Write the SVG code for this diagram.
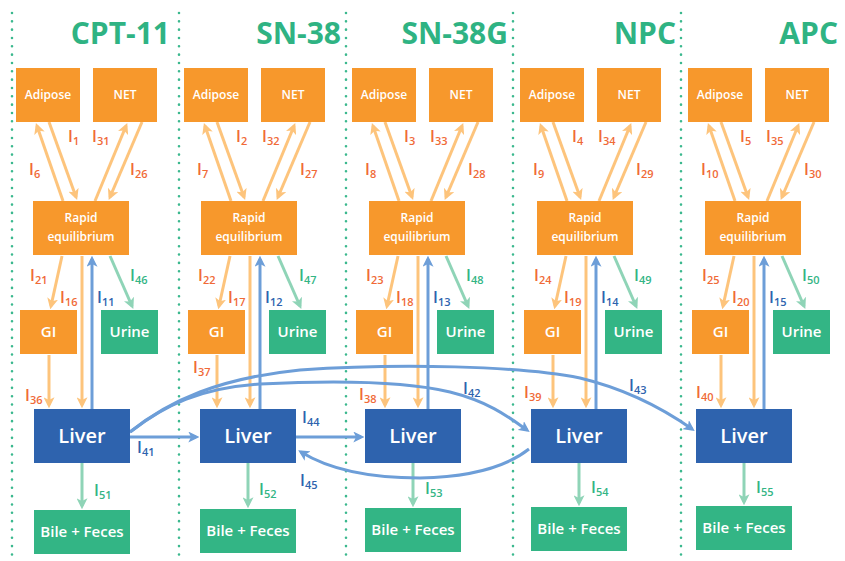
<svg xmlns="http://www.w3.org/2000/svg" width="845" height="561" viewBox="0 0 845 561">
<style>
  .o{fill:#f7982c}
  .b{fill:#2e63ae}
  .g{fill:#33b585}
  .bt{font-family:"Open Sans","Liberation Sans",sans-serif;font-weight:600;fill:#fff;text-anchor:middle}
  .s{font-size:12px}
  .m{font-size:15px}
  .l{font-size:20px}
  .t{font-family:"Open Sans","Liberation Sans",sans-serif;font-weight:700;font-size:30px;fill:#2fb383;text-anchor:end}
  .lab{font-family:"Open Sans","Liberation Sans",sans-serif;font-weight:600;font-size:16px}
  .lo{fill:#f06a37}
  .lb{fill:#2e63ae}
  .lg{fill:#33b585}
  .sub{font-size:11px}
  .ao{stroke:#fdc47c;stroke-width:3;fill:none;marker-end:url(#mo)}
  .ab{stroke:#6d9ed8;stroke-width:3;fill:none;marker-end:url(#mb)}
  .ag{stroke:#8fd4b7;stroke-width:3;fill:none;marker-end:url(#mg)}
  .dot{stroke:#3bb88e;stroke-width:2.6;stroke-linecap:round;stroke-dasharray:0 8.33;fill:none}
</style>
<defs>
  <marker id="mo" viewBox="0 0 10 10" refX="7" refY="5" markerWidth="11" markerHeight="11" markerUnits="userSpaceOnUse" orient="auto"><path d="M0,0 L10,5 L0,10 L2.5,5 z" fill="#fdc47c"/></marker>
  <marker id="mb" viewBox="0 0 10 10" refX="7" refY="5" markerWidth="11" markerHeight="11" markerUnits="userSpaceOnUse" orient="auto"><path d="M0,0 L10,5 L0,10 L2.5,5 z" fill="#6d9ed8"/></marker>
  <marker id="mg" viewBox="0 0 10 10" refX="7" refY="5" markerWidth="11" markerHeight="11" markerUnits="userSpaceOnUse" orient="auto"><path d="M0,0 L10,5 L0,10 L2.5,5 z" fill="#8fd4b7"/></marker>
</defs>

<g id="separators">
  <path class="dot" d="M12 13 V560"/>
  <path class="dot" d="M179 13 V560"/>
  <path class="dot" d="M346 13 V560"/>
  <path class="dot" d="M513 13 V560"/>
  <path class="dot" d="M681 13 V560"/>
</g>

<g id="titles">
  <text class="t" x="170" y="44">CPT-11</text>
  <text class="t" x="341" y="44">SN-38</text>
  <text class="t" x="508" y="44">SN-38G</text>
  <text class="t" x="676" y="44">NPC</text>
  <text class="t" x="838" y="44">APC</text>
</g>

<g id="connectors">
  <!-- column 1 -->
  <path class="ao" d="M63 201 L37 126"/>
  <path class="ao" d="M49 122 L76 197"/>
  <path class="ao" d="M95 201 L126 126"/>
  <path class="ao" d="M142 122 L110 197"/>
  <path class="ao" d="M62 256 L51 306"/>
  <path class="ao" d="M82 256 V405"/>
  <path class="ab" d="M92 409 V259"/>
  <path class="ag" d="M110 256 L132 306"/>
  <path class="ao" d="M49 355 V405"/>
  <path class="ag" d="M82 463 V506"/>
  <!-- column 2 -->
  <path class="ao" d="M231 201 L205 126"/>
  <path class="ao" d="M217 122 L244 197"/>
  <path class="ao" d="M263 201 L294 126"/>
  <path class="ao" d="M310 122 L278 197"/>
  <path class="ao" d="M230 256 L219 306"/>
  <path class="ao" d="M250 256 V405"/>
  <path class="ab" d="M260 409 V259"/>
  <path class="ag" d="M278 256 L300 306"/>
  <path class="ao" d="M217 355 V405"/>
  <path class="ag" d="M248 463 V505"/>
  <!-- column 3 -->
  <path class="ao" d="M399 201 L373 126"/>
  <path class="ao" d="M385 122 L412 197"/>
  <path class="ao" d="M431 201 L462 126"/>
  <path class="ao" d="M478 122 L446 197"/>
  <path class="ao" d="M398 256 L387 306"/>
  <path class="ao" d="M418 256 V405"/>
  <path class="ab" d="M428 409 V259"/>
  <path class="ag" d="M446 256 L468 306"/>
  <path class="ao" d="M385 355 V405"/>
  <path class="ag" d="M413 463 V504"/>
  <!-- column 4 -->
  <path class="ao" d="M567 201 L541 126"/>
  <path class="ao" d="M553 122 L580 197"/>
  <path class="ao" d="M599 201 L630 126"/>
  <path class="ao" d="M646 122 L614 197"/>
  <path class="ao" d="M566 256 L555 306"/>
  <path class="ao" d="M586 256 V405"/>
  <path class="ab" d="M596 409 V259"/>
  <path class="ag" d="M614 256 L636 306"/>
  <path class="ao" d="M553 355 V405"/>
  <path class="ag" d="M579 463 V503"/>
  <!-- column 5 -->
  <path class="ao" d="M735 201 L709 126"/>
  <path class="ao" d="M721 122 L748 197"/>
  <path class="ao" d="M767 201 L798 126"/>
  <path class="ao" d="M814 122 L782 197"/>
  <path class="ao" d="M734 256 L723 306"/>
  <path class="ao" d="M754 256 V405"/>
  <path class="ab" d="M764 409 V259"/>
  <path class="ag" d="M782 256 L804 306"/>
  <path class="ao" d="M721 355 V405"/>
  <path class="ag" d="M744 463 V502"/>
  <!-- liver cross connectors -->
  <path class="ab" d="M130 437 H196"/>
  <path class="ab" d="M296 437 H361"/>
  <path class="ab" d="M529 449 C505 468 470 477 420 478 C370 478 330 470 301 452"/>
  <path class="ab" d="M130 432 C165 405 200 388 260 384 C320 381 400 380 450 392 C490 402 510 418 527 430"/>
  <path class="ab" d="M130 432 C170 400 220 378 300 370 C400 363 520 366 580 378 C630 390 665 410 692 429"/>
</g>

<g id="labels" class="lab">
  <text class="lo" x="68" y="142">I<tspan class="sub" dy="2.5">1</tspan></text>
  <text class="lo" x="92" y="142">I<tspan class="sub" dy="2.5">31</tspan></text>
  <text class="lo" x="29" y="175">I<tspan class="sub" dy="2.5">6</tspan></text>
  <text class="lo" x="130" y="175">I<tspan class="sub" dy="2.5">26</tspan></text>
  <text class="lo" x="30" y="281">I<tspan class="sub" dy="2.5">21</tspan></text>
  <text class="lo" x="60" y="303">I<tspan class="sub" dy="2.5">16</tspan></text>
  <text class="lb" x="97" y="303">I<tspan class="sub" dy="2.5">11</tspan></text>
  <text class="lg" x="130" y="281">I<tspan class="sub" dy="2.5">46</tspan></text>
  <text class="lo" x="25" y="401">I<tspan class="sub" dy="2.5">36</tspan></text>
  <text class="lg" x="94" y="496">I<tspan class="sub" dy="2.5">51</tspan></text>

  <text class="lo" x="236" y="142">I<tspan class="sub" dy="2.5">2</tspan></text>
  <text class="lo" x="262" y="142">I<tspan class="sub" dy="2.5">32</tspan></text>
  <text class="lo" x="197" y="175">I<tspan class="sub" dy="2.5">7</tspan></text>
  <text class="lo" x="300" y="175">I<tspan class="sub" dy="2.5">27</tspan></text>
  <text class="lo" x="198" y="281">I<tspan class="sub" dy="2.5">22</tspan></text>
  <text class="lo" x="228" y="303">I<tspan class="sub" dy="2.5">17</tspan></text>
  <text class="lb" x="265" y="303">I<tspan class="sub" dy="2.5">12</tspan></text>
  <text class="lg" x="299" y="281">I<tspan class="sub" dy="2.5">47</tspan></text>
  <text class="lo" x="193" y="373">I<tspan class="sub" dy="2.5">37</tspan></text>
  <text class="lg" x="259" y="495">I<tspan class="sub" dy="2.5">52</tspan></text>

  <text class="lo" x="404" y="142">I<tspan class="sub" dy="2.5">3</tspan></text>
  <text class="lo" x="430" y="142">I<tspan class="sub" dy="2.5">33</tspan></text>
  <text class="lo" x="365" y="175">I<tspan class="sub" dy="2.5">8</tspan></text>
  <text class="lo" x="468" y="175">I<tspan class="sub" dy="2.5">28</tspan></text>
  <text class="lo" x="366" y="281">I<tspan class="sub" dy="2.5">23</tspan></text>
  <text class="lo" x="396" y="303">I<tspan class="sub" dy="2.5">18</tspan></text>
  <text class="lb" x="433" y="303">I<tspan class="sub" dy="2.5">13</tspan></text>
  <text class="lg" x="466" y="281">I<tspan class="sub" dy="2.5">48</tspan></text>
  <text class="lo" x="359" y="400">I<tspan class="sub" dy="2.5">38</tspan></text>
  <text class="lg" x="425" y="494">I<tspan class="sub" dy="2.5">53</tspan></text>

  <text class="lo" x="572" y="142">I<tspan class="sub" dy="2.5">4</tspan></text>
  <text class="lo" x="598" y="142">I<tspan class="sub" dy="2.5">34</tspan></text>
  <text class="lo" x="533" y="175">I<tspan class="sub" dy="2.5">9</tspan></text>
  <text class="lo" x="636" y="175">I<tspan class="sub" dy="2.5">29</tspan></text>
  <text class="lo" x="534" y="281">I<tspan class="sub" dy="2.5">24</tspan></text>
  <text class="lo" x="564" y="303">I<tspan class="sub" dy="2.5">19</tspan></text>
  <text class="lb" x="601" y="303">I<tspan class="sub" dy="2.5">14</tspan></text>
  <text class="lg" x="634" y="281">I<tspan class="sub" dy="2.5">49</tspan></text>
  <text class="lo" x="524" y="398">I<tspan class="sub" dy="2.5">39</tspan></text>
  <text class="lg" x="591" y="493">I<tspan class="sub" dy="2.5">54</tspan></text>

  <text class="lo" x="740" y="142">I<tspan class="sub" dy="2.5">5</tspan></text>
  <text class="lo" x="766" y="142">I<tspan class="sub" dy="2.5">35</tspan></text>
  <text class="lo" x="701" y="175">I<tspan class="sub" dy="2.5">10</tspan></text>
  <text class="lo" x="804" y="175">I<tspan class="sub" dy="2.5">30</tspan></text>
  <text class="lo" x="702" y="281">I<tspan class="sub" dy="2.5">25</tspan></text>
  <text class="lo" x="732" y="303">I<tspan class="sub" dy="2.5">20</tspan></text>
  <text class="lb" x="769" y="303">I<tspan class="sub" dy="2.5">15</tspan></text>
  <text class="lg" x="802" y="281">I<tspan class="sub" dy="2.5">50</tspan></text>
  <text class="lo" x="696" y="398">I<tspan class="sub" dy="2.5">40</tspan></text>
  <text class="lg" x="756" y="493">I<tspan class="sub" dy="2.5">55</tspan></text>

  <text class="lb" x="137" y="453">I<tspan class="sub" dy="2.5">41</tspan></text>
  <text class="lb" x="302" y="423">I<tspan class="sub" dy="2.5">44</tspan></text>
  <text class="lb" x="300" y="486">I<tspan class="sub" dy="2.5">45</tspan></text>
  <text class="lb" x="463" y="394">I<tspan class="sub" dy="2.5">42</tspan></text>
  <text class="lb" x="629" y="391">I<tspan class="sub" dy="2.5">43</tspan></text>
</g>

<!-- Column 1: CPT-11 -->
<g id="adipose1"><rect class="o" x="16" y="68" width="64" height="54"/><text class="bt s" x="48" y="99">Adipose</text></g>
<g id="net1"><rect class="o" x="93" y="68" width="64" height="54"/><text class="bt s" x="125" y="99">NET</text></g>
<g id="rapid1"><rect class="o" x="33" y="201" width="96" height="54"/><text class="bt s" x="81" y="222">Rapid</text><text class="bt s" x="81" y="241">equilibrium</text></g>
<g id="gi1"><rect class="o" x="20" y="310" width="57" height="44"/><text class="bt m" x="48.5" y="337">GI</text></g>
<g id="urine1"><rect class="g" x="101" y="310" width="57" height="44"/><text class="bt m" x="129.5" y="337">Urine</text></g>
<g id="liver1"><rect class="b" x="34" y="409" width="96" height="54"/><text class="bt l" x="82" y="443">Liver</text></g>
<g id="bile1"><rect class="g" x="34" y="510" width="96" height="44"/><text class="bt m" x="82" y="537">Bile + Feces</text></g>

<!-- Column 2: SN-38 -->
<g id="adipose2"><rect class="o" x="184" y="68" width="64" height="54"/><text class="bt s" x="216" y="99">Adipose</text></g>
<g id="net2"><rect class="o" x="261" y="68" width="64" height="54"/><text class="bt s" x="293" y="99">NET</text></g>
<g id="rapid2"><rect class="o" x="201" y="201" width="96" height="54"/><text class="bt s" x="249" y="222">Rapid</text><text class="bt s" x="249" y="241">equilibrium</text></g>
<g id="gi2"><rect class="o" x="188" y="310" width="57" height="44"/><text class="bt m" x="216.5" y="337">GI</text></g>
<g id="urine2"><rect class="g" x="269" y="310" width="57" height="44"/><text class="bt m" x="297.5" y="337">Urine</text></g>
<g id="liver2"><rect class="b" x="200" y="409" width="96" height="54"/><text class="bt l" x="248" y="443">Liver</text></g>
<g id="bile2"><rect class="g" x="200" y="509" width="96" height="44"/><text class="bt m" x="248" y="536">Bile + Feces</text></g>

<!-- Column 3: SN-38G -->
<g id="adipose3"><rect class="o" x="352" y="68" width="64" height="54"/><text class="bt s" x="384" y="99">Adipose</text></g>
<g id="net3"><rect class="o" x="429" y="68" width="64" height="54"/><text class="bt s" x="461" y="99">NET</text></g>
<g id="rapid3"><rect class="o" x="369" y="201" width="96" height="54"/><text class="bt s" x="417" y="222">Rapid</text><text class="bt s" x="417" y="241">equilibrium</text></g>
<g id="gi3"><rect class="o" x="356" y="310" width="57" height="44"/><text class="bt m" x="384.5" y="337">GI</text></g>
<g id="urine3"><rect class="g" x="437" y="310" width="57" height="44"/><text class="bt m" x="465.5" y="337">Urine</text></g>
<g id="liver3"><rect class="b" x="365" y="409" width="96" height="54"/><text class="bt l" x="413" y="443">Liver</text></g>
<g id="bile3"><rect class="g" x="365" y="508" width="96" height="44"/><text class="bt m" x="413" y="535">Bile + Feces</text></g>

<!-- Column 4: NPC -->
<g id="adipose4"><rect class="o" x="520" y="68" width="64" height="54"/><text class="bt s" x="552" y="99">Adipose</text></g>
<g id="net4"><rect class="o" x="597" y="68" width="64" height="54"/><text class="bt s" x="629" y="99">NET</text></g>
<g id="rapid4"><rect class="o" x="537" y="201" width="96" height="54"/><text class="bt s" x="585" y="222">Rapid</text><text class="bt s" x="585" y="241">equilibrium</text></g>
<g id="gi4"><rect class="o" x="524" y="310" width="57" height="44"/><text class="bt m" x="552.5" y="337">GI</text></g>
<g id="urine4"><rect class="g" x="605" y="310" width="57" height="44"/><text class="bt m" x="633.5" y="337">Urine</text></g>
<g id="liver4"><rect class="b" x="531" y="409" width="96" height="54"/><text class="bt l" x="579" y="443">Liver</text></g>
<g id="bile4"><rect class="g" x="531" y="507" width="96" height="44"/><text class="bt m" x="579" y="534">Bile + Feces</text></g>

<!-- Column 5: APC -->
<g id="adipose5"><rect class="o" x="688" y="68" width="64" height="54"/><text class="bt s" x="720" y="99">Adipose</text></g>
<g id="net5"><rect class="o" x="765" y="68" width="64" height="54"/><text class="bt s" x="797" y="99">NET</text></g>
<g id="rapid5"><rect class="o" x="705" y="201" width="96" height="54"/><text class="bt s" x="753" y="222">Rapid</text><text class="bt s" x="753" y="241">equilibrium</text></g>
<g id="gi5"><rect class="o" x="692" y="310" width="57" height="44"/><text class="bt m" x="720.5" y="337">GI</text></g>
<g id="urine5"><rect class="g" x="773" y="310" width="57" height="44"/><text class="bt m" x="801.5" y="337">Urine</text></g>
<g id="liver5"><rect class="b" x="696" y="409" width="96" height="54"/><text class="bt l" x="744" y="443">Liver</text></g>
<g id="bile5"><rect class="g" x="696" y="506" width="96" height="44"/><text class="bt m" x="744" y="533">Bile + Feces</text></g>
</svg>
